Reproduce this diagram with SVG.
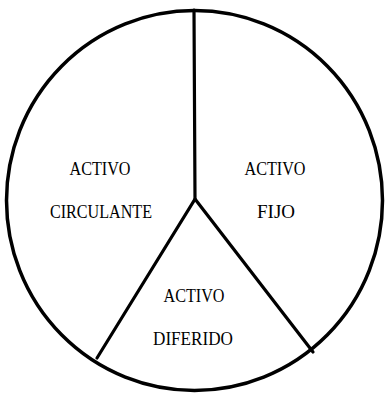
<svg xmlns="http://www.w3.org/2000/svg" width="386" height="398" viewBox="0 0 386 398">
<style>
.o{fill:none;stroke:#000;stroke-width:3.5}
.l{fill:none;stroke:#000;stroke-width:3.2;stroke-linecap:round}
.t{font-family:"Liberation Serif","DejaVu Serif",serif;font-size:19.5px;fill:#000;text-anchor:middle}
</style>
<rect width="386" height="398" fill="#fff"/>
<g id="outline"><ellipse class="o" cx="194.5" cy="200.5" rx="188" ry="190"/></g>
<g id="connectors">
<path class="l" d="M194 10 L195 199 L97 358"/>
<path class="l" d="M195 199 L313 352"/>
</g>
<g id="circulante"><text class="t" x="100" y="175" textLength="61" lengthAdjust="spacingAndGlyphs">ACTIVO</text><text class="t" x="101" y="218" textLength="102" lengthAdjust="spacingAndGlyphs">CIRCULANTE</text></g>
<g id="fijo"><text class="t" x="275" y="175" textLength="61" lengthAdjust="spacingAndGlyphs">ACTIVO</text><text class="t" x="276" y="218" textLength="38" lengthAdjust="spacingAndGlyphs">FIJO</text></g>
<g id="diferido"><text class="t" x="194" y="302" textLength="61" lengthAdjust="spacingAndGlyphs">ACTIVO</text><text class="t" x="193" y="345" textLength="80" lengthAdjust="spacingAndGlyphs">DIFERIDO</text></g>
</svg>
